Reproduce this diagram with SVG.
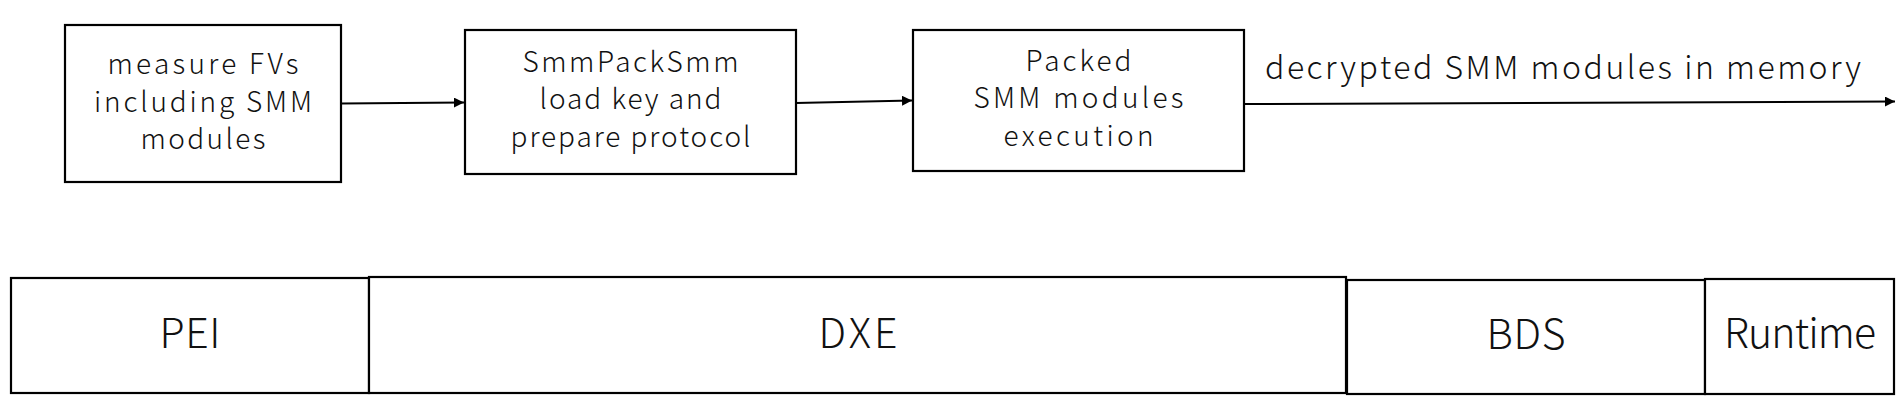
<svg xmlns="http://www.w3.org/2000/svg" width="1904" height="409" viewBox="0 0 1904 409">
<style>
  .box { fill: #fff; stroke: #000; stroke-width: 2.2; }
  .t { font-family: "Noto Sans CJK JP", "Noto Sans", sans-serif; font-weight: 300; font-size: 28px; fill: #111; text-anchor: middle; }
  .big { font-family: "Noto Sans CJK JP", "Noto Sans", sans-serif; font-weight: 300; font-size: 41px; fill: #111; text-anchor: middle; }
  .lbl { font-family: "Noto Sans CJK JP", "Noto Sans", sans-serif; font-weight: 300; font-size: 32px; fill: #111; }
  .conn { fill: none; stroke: #000; stroke-width: 2; }
</style>
<defs>
  <marker id="arrow" viewBox="0 0 10 10" refX="10" refY="5" markerWidth="10" markerHeight="10" markerUnits="userSpaceOnUse" orient="auto">
    <path d="M0,0 L10,5 L0,10 Z" fill="#000"/>
  </marker>
</defs>
<rect width="1904" height="409" fill="#fff"/>
<g id="node-measure">
  <rect class="box" x="65" y="25" width="276" height="157"/>
  <text class="t" x="203" y="74" textLength="191">measure FVs</text>
  <text class="t" x="203" y="111.5" textLength="218">including SMM</text>
  <text class="t" x="203" y="148.5" textLength="125">modules</text>
</g>
<g id="node-smmpack">
  <rect class="box" x="465" y="30" width="331" height="144"/>
  <text class="t" x="630.5" y="71.5" textLength="216">SmmPackSmm</text>
  <text class="t" x="630.5" y="109" textLength="182">load key and</text>
  <text class="t" x="630.5" y="146.5" textLength="240">prepare protocol</text>
</g>
<g id="node-packed">
  <rect class="box" x="913" y="30" width="331" height="141"/>
  <text class="t" x="1078.5" y="70.5" textLength="106">Packed</text>
  <text class="t" x="1078.5" y="108" textLength="210">SMM modules</text>
  <text class="t" x="1078.5" y="145.5" textLength="150">execution</text>
</g>
<g id="node-pei">
  <rect class="box" x="11" y="278" width="358" height="115"/>
  <text class="big" x="190" y="348" textLength="61">PEI</text>
</g>
<g id="node-dxe">
  <rect class="box" x="369" y="277" width="977" height="116"/>
  <text class="big" x="858" y="348" textLength="79">DXE</text>
</g>
<g id="node-bds">
  <rect class="box" x="1347" y="280" width="358" height="114"/>
  <text class="big" x="1526" y="349" textLength="79">BDS</text>
</g>
<g id="node-runtime">
  <rect class="box" x="1705" y="279" width="189" height="115"/>
  <text class="big" x="1800" y="348" textLength="152">Runtime</text>
</g>
<g id="connectors">
  <path class="conn" d="M341,103.5 L464,102.5" marker-end="url(#arrow)"/>
  <path class="conn" d="M796,103 L912,100.5" marker-end="url(#arrow)"/>
  <path class="conn" d="M1244,104 L1895,101.5" marker-end="url(#arrow)"/>
  <text class="lbl" x="1265" y="79" textLength="596">decrypted SMM modules in memory</text>
</g>
</svg>
